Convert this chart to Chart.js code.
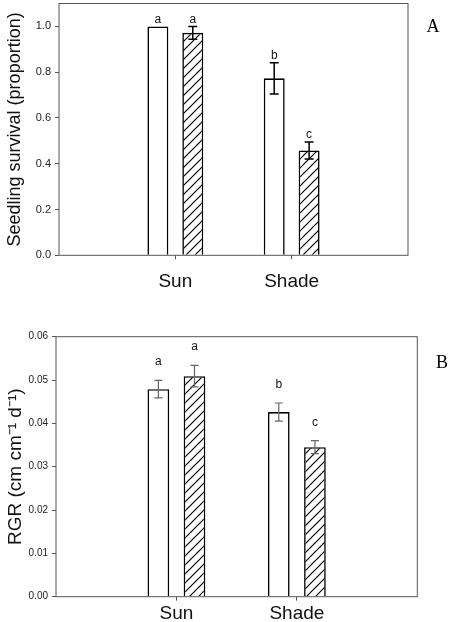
<!DOCTYPE html>
<html><head><meta charset="utf-8">
<script src="https://cdn.jsdelivr.net/npm/chart.js@4"></script>
<style>html,body{margin:0;padding:0;background:#fff;} canvas{position:absolute;left:0;}</style>
</head><body>
<canvas id="cA" width="451" height="300" style="top:0px"></canvas>
<canvas id="cB" width="451" height="322" style="top:300px"></canvas>
<script>
// ---- data ----
const categories = ['Sun', 'Shade'];
const survivalOpen = [1.0, 0.773];
const survivalOpenErr = [0, 0.068];
const survivalHatched = [0.972, 0.458];
const survivalHatchedErr = [0.028, 0.037];
const survivalOpenLetters = ['a', 'b'];
const survivalHatchedLetters = ['a', 'c'];
const survivalTicks = [0, 0.2, 0.4, 0.6, 0.8, 1.0];

const rgrOpen = [0.0479, 0.0426];
const rgrOpenErr = [0.0020, 0.0021];
const rgrHatched = [0.0509, 0.0345];
const rgrHatchedErr = [0.0025, 0.0015];
const rgrOpenLetters = ['a', 'b'];
const rgrHatchedLetters = ['a', 'c'];
const rgrTicks = [0, 0.01, 0.02, 0.03, 0.04, 0.05, 0.06];

// ---- helpers ----
const SANS = '"Liberation Sans", Arial, sans-serif';
const SERIF = '"Liberation Serif", "Times New Roman", serif';

function hatch() {
  const s = 9;
  const c = document.createElement('canvas');
  c.width = s; c.height = s;
  const g = c.getContext('2d');
  g.fillStyle = '#fff'; g.fillRect(0, 0, s, s);
  g.strokeStyle = '#000'; g.lineWidth = 1.2;
  g.beginPath();
  g.moveTo(0, s); g.lineTo(s, 0);
  g.moveTo(-1, 1); g.lineTo(1, -1);
  g.moveTo(s - 1, s + 1); g.lineTo(s + 1, s - 1);
  g.stroke();
  return g.createPattern(c, 'repeat');
}

const pad = arr => [null, ...arr, null];

function makeChart(id, cfg) {
  const labels = ['', ...categories, ''];
  const annot = {
    id: 'annot' + id,
    afterDatasetsDraw(chart) {
      const ctx = chart.ctx;
      const y = chart.scales.y;
      const a = chart.chartArea;
      chart.data.datasets.forEach((ds, di) => {
        const meta = chart.getDatasetMeta(di);
        ds.values.forEach((v, i) => {
          const el = meta.data[i + 1];
          const e = ds.errs[i];
          const x = el.x;
          let topPx = y.getPixelForValue(v);
          if (e > 0) {
            const y1 = y.getPixelForValue(v + e), y2 = y.getPixelForValue(v - e);
            ctx.save();
            ctx.strokeStyle = cfg.errColor; ctx.lineWidth = cfg.errWidth;
            ctx.beginPath();
            ctx.moveTo(x, y1); ctx.lineTo(x, y2);
            ctx.moveTo(x - cfg.cap, y1); ctx.lineTo(x + cfg.cap, y1);
            ctx.moveTo(x - cfg.cap, y2); ctx.lineTo(x + cfg.cap, y2);
            ctx.stroke();
            ctx.restore();
            topPx = y1;
          }
          ctx.save();
          ctx.fillStyle = '#111';
          ctx.font = '12px ' + SANS;
          ctx.textAlign = 'center';
          ctx.textBaseline = 'alphabetic';
          ctx.fillText(ds.letters[i], x, topPx - cfg.letterGap);
          ctx.restore();
        });
      });
      ctx.save();
      ctx.strokeStyle = '#555'; ctx.lineWidth = 1;
      ctx.strokeRect(a.left, a.top, a.right - a.left, a.bottom - a.top);
      ctx.fillStyle = '#000';
      ctx.font = '18px ' + SERIF;
      ctx.textAlign = 'center'; ctx.textBaseline = 'middle';
      ctx.fillText(cfg.panel, cfg.panelX, cfg.panelY);
      ctx.restore();
    }
  };
  return new Chart(document.getElementById(id), {
    type: 'bar',
    data: {
      labels,
      datasets: [
        { data: pad(cfg.open), values: cfg.open, errs: cfg.openErr, letters: cfg.openLetters,
          backgroundColor: '#fff', borderColor: '#000', borderWidth: 1.6,
          barPercentage: 0.6, categoryPercentage: 0.6 },
        { data: pad(cfg.hatched), values: cfg.hatched, errs: cfg.hatchedErr, letters: cfg.hatchedLetters,
          backgroundColor: hatch(), borderColor: '#000', borderWidth: 1.6,
          barPercentage: 0.6, categoryPercentage: 0.6 }
      ]
    },
    options: {
      responsive: false, animation: false,
      layout: { padding: { left: 0, top: cfg.top, right: cfg.right, bottom: 0 } },
      plugins: { legend: { display: false }, tooltip: { enabled: false } },
      scales: {
        x: {
          offset: false,
          grid: { offset: false, drawOnChartArea: false, drawTicks: true, tickLength: 4,
                  color: c => (c.index === 0 || c.index === 3) ? 'rgba(0,0,0,0)' : '#555' },
          border: { display: false },
          ticks: { font: { family: SANS, size: 19 }, color: '#111', padding: cfg.xPad, maxRotation: 0, autoSkip: false },
          afterFit: s => { s.height = cfg.xHeight; s.paddingLeft = 0; s.paddingRight = 0; }
        },
        y: {
          min: 0, max: cfg.max,
          afterBuildTicks: s => { s.ticks = cfg.ticks.map(v => ({ value: v })); },
          ticks: { font: { family: SANS, size: cfg.tickSize }, color: '#222', padding: 4,
                   callback: v => Number(v).toFixed(cfg.dec) },
          grid: { drawOnChartArea: false, drawTicks: true, tickLength: 4, color: '#555' },
          border: { display: false },
          title: { display: true, text: cfg.title, font: { family: SANS, size: cfg.titleSize }, color: '#111',
                   padding: { top: 4, bottom: 0 } },
          afterFit: s => { s.width = cfg.yWidth; s.paddingTop = 0; s.paddingBottom = 0; }
        }
      }
    },
    plugins: [annot]
  });
}

makeChart('cA', {
  open: survivalOpen, openErr: survivalOpenErr, openLetters: survivalOpenLetters,
  hatched: survivalHatched, hatchedErr: survivalHatchedErr, hatchedLetters: survivalHatchedLetters,
  ticks: survivalTicks, max: 1.1, dec: 1, tickSize: 11,
  title: 'Seedling survival (proportion)', titleSize: 18,
  top: 3.5, right: 43, yWidth: 59, xHeight: 44.7, xPad: 11,
  errColor: '#000', errWidth: 1.5, cap: 4.5, letterGap: 3.5,
  panel: 'A', panelX: 433, panelY: 27
});

makeChart('cB', {
  open: rgrOpen, openErr: rgrOpenErr, openLetters: rgrOpenLetters,
  hatched: rgrHatched, hatchedErr: rgrHatchedErr, hatchedLetters: rgrHatchedLetters,
  ticks: rgrTicks, max: 0.06, dec: 2, tickSize: 10,
  title: 'RGR (cm cm\u207B\u00B9 d\u207B\u00B9)', titleSize: 19,
  top: 36.7, right: 33.7, yWidth: 56, xHeight: 25.3, xPad: 2,
  errColor: '#666', errWidth: 1.2, cap: 4, letterGap: 15,
  panel: 'B', panelX: 442, panelY: 63
});
</script>
</body></html>
